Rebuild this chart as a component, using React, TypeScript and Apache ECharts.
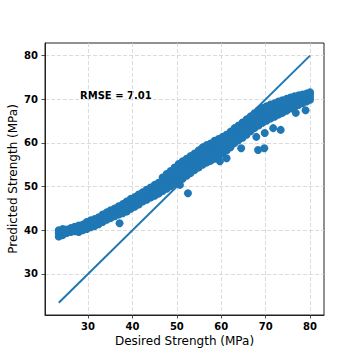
import React, { useEffect, useRef } from "react";
import * as echarts from "echarts";

// Desired strength (x) and predicted strength (y), column by column
const desired: number[] = [
  23.4, 23.4, 23.4,
  24.3, 24.3, 24.3,
  25.2, 25.2,
  26.1, 26.1,
  27.0, 27.0,
  27.9, 27.9, 27.9,
  28.8, 28.8,
  29.7, 29.7, 29.7,
  30.6, 30.6, 30.6,
  31.5, 31.5, 31.5,
  32.4, 32.4, 32.4,
  33.3, 33.3, 33.3,
  34.2, 34.2, 34.2,
  35.1, 35.1, 35.1,
  36.0, 36.0, 36.0,
  36.9, 36.9, 36.9,
  37.1,
  37.8, 37.8, 37.8,
  38.7, 38.7, 38.7,
  39.6, 39.6, 39.6,
  40.5, 40.5, 40.5,
  41.4, 41.4, 41.4,
  42.3, 42.3, 42.3,
  43.2, 43.2, 43.2,
  44.1, 44.1, 44.1,
  45.0, 45.0, 45.0,
  45.9, 45.9, 45.9,
  46.8, 46.8, 46.8, 46.8,
  47.7, 47.7, 47.7, 47.7,
  48.6, 48.6, 48.6, 48.6,
  49.5, 49.5, 49.5, 49.5,
  50.4, 50.4, 50.4, 50.4,
  50.7,
  51.3, 51.3, 51.3, 51.3,
  52.2, 52.2, 52.2, 52.2,
  52.5,
  53.1, 53.1, 53.1, 53.1,
  54.0, 54.0, 54.0, 54.0,
  54.9, 54.9, 54.9, 54.9,
  55.8, 55.8, 55.8, 55.8,
  56.7, 56.7, 56.7, 56.7,
  57.6, 57.6, 57.6, 57.6,
  58.5, 58.5, 58.5, 58.5,
  59.4, 59.4, 59.4, 59.4,
  59.7,
  60.3, 60.3, 60.3, 60.3,
  61.2, 61.2, 61.2, 61.2, 61.2,
  62.1, 62.1, 62.1, 62.1,
  63.0, 63.0, 63.0, 63.0,
  63.9, 63.9, 63.9, 63.9,
  64.5,
  64.8, 64.8, 64.8, 64.8,
  65.7, 65.7, 65.7, 65.7,
  66.6, 66.6, 66.6, 66.6,
  67.5, 67.5, 67.5, 67.5,
  67.9,
  68.3,
  68.4, 68.4, 68.4, 68.4,
  69.3, 69.3, 69.3, 69.3,
  69.7,
  69.8,
  70.2, 70.2, 70.2, 70.2,
  71.1, 71.1, 71.1, 71.1,
  71.7,
  72.0, 72.0, 72.0, 72.0,
  72.9, 72.9, 72.9, 72.9,
  73.4,
  73.8, 73.8, 73.8, 73.8,
  74.7, 74.7, 74.7, 74.7,
  75.6, 75.6, 75.6, 75.6,
  76.5, 76.5, 76.5, 76.5,
  76.8,
  77.4, 77.4, 77.4, 77.4,
  78.3, 78.3, 78.3, 78.3,
  79.0,
  79.2, 79.2, 79.2, 79.2,
  80.0, 80.0, 80.0, 80.0,
];

const predicted: number[] = [
  38.6, 39.4, 40.0,
  38.9, 39.6, 40.3,
  39.4, 40.2,
  39.6, 40.5,
  39.8, 40.8,
  39.6, 40.3, 41.1,
  40.0, 41.3,
  40.3, 41.2, 41.9,
  40.7, 41.6, 42.3,
  41.0, 41.9, 42.6,
  41.4, 42.3, 43.0,
  41.9, 42.8, 43.6,
  42.4, 43.3, 44.1,
  42.8, 43.8, 44.6,
  43.2, 44.2, 45.0,
  43.6, 44.6, 45.5,
  41.6,
  43.9, 45.0, 46.0,
  44.3, 45.4, 46.6,
  44.9, 46.0, 47.2,
  45.4, 46.5, 47.6,
  45.9, 47.0, 48.2,
  46.6, 47.6, 48.7,
  47.0, 48.1, 49.3,
  47.5, 48.6, 49.8,
  47.9, 49.1, 50.4,
  48.4, 49.6, 50.9,
  49.0, 50.2, 51.3, 52.1,
  49.5, 50.7, 51.9, 52.9,
  50.1, 51.2, 52.4, 53.6,
  50.7, 51.9, 53.1, 54.4,
  51.3, 52.5, 53.8, 55.2,
  50.4,
  51.8, 53.1, 54.4, 55.8,
  52.5, 53.8, 55.1, 56.4,
  48.5,
  53.1, 54.4, 55.7, 57.0,
  53.8, 55.0, 56.3, 57.6,
  54.4, 55.6, 56.9, 58.3,
  55.0, 56.3, 57.6, 59.0,
  55.5, 56.8, 58.1, 59.5,
  55.9, 57.2, 58.5, 59.9,
  56.4, 57.7, 59.0, 60.5,
  57.0, 58.2, 59.5, 60.9,
  55.8,
  57.6, 58.8, 60.0, 61.4,
  56.5, 58.3, 59.5, 60.7, 61.9,
  59.0, 60.2, 61.4, 62.6,
  60.0, 61.2, 62.3, 63.4,
  60.6, 61.8, 62.9, 64.0,
  58.8,
  61.2, 62.4, 63.6, 64.7,
  61.9, 63.1, 64.3, 65.4,
  62.7, 63.9, 65.1, 66.1,
  63.4, 64.6, 65.8, 66.8,
  61.4,
  58.4,
  64.0, 65.3, 66.5, 67.5,
  64.6, 65.8, 67.0, 68.0,
  58.8,
  62.3,
  65.1, 66.3, 67.4, 68.4,
  65.6, 66.8, 67.8, 68.8,
  63.4,
  66.0, 67.2, 68.2, 69.1,
  66.5, 67.6, 68.6, 69.5,
  63.0,
  66.9, 68.0, 69.0, 69.8,
  67.4, 68.4, 69.3, 70.1,
  67.9, 68.8, 69.7, 70.4,
  68.3, 69.2, 70.0, 70.7,
  66.9,
  68.7, 69.6, 70.3, 70.9,
  69.1, 69.9, 70.6, 71.1,
  67.5,
  69.5, 70.3, 70.9, 71.3,
  69.9, 70.6, 71.2, 71.6,
];

// Identity (perfect prediction) line end points
const identityX: number[] = [23.4, 80.0];

const xTicks: number[] = [30, 40, 50, 60, 70, 80];
const yTicks: number[] = [30, 40, 50, 60, 70, 80];

const rmseText = "RMSE = 7.01";
const xName = "Desired Strength (MPa)";
const yName = "Predicted Strength (MPa)";

const BLUE = "#1f77b4";
const FONT = "DejaVu Sans";

export default function App() {
  const ref = useRef<HTMLDivElement>(null);

  useEffect(() => {
    if (!ref.current) return;
    const chart = echarts.init(ref.current, undefined, { renderer: "svg" });

    const scatterData = desired.map((x, i) => [x, predicted[i]]);
    const lineData = identityX.map((v) => [v, v]);

    const splitLine = {
      show: true,
      lineStyle: { color: "#d3d3d3", type: [4, 2] as any, width: 0.8 },
    };

    chart.setOption({
      animation: false,
      backgroundColor: "#ffffff",
      grid: {
        left: 45,
        right: 36,
        top: 43,
        bottom: 45,
        outerBoundsMode: "none",
        containLabel: false,
        show: true,
        borderColor: "#222222",
        borderWidth: 1,
        backgroundColor: "transparent",
      },
      xAxis: {
        type: "value",
        min: 20.3,
        max: 83.15,
        name: xName,
        nameLocation: "middle",
        nameGap: 20,
        nameMoveOverlap: false,
        nameTextStyle: { fontFamily: FONT, fontSize: 12, color: "#000" },
        axisLine: { show: true, onZero: false, lineStyle: { color: "#222", width: 1 } },
        axisTick: {
          show: true,
          inside: false,
          length: 3.5,
          customValues: xTicks,
          lineStyle: { color: "#222", width: 0.8 },
        },
        axisLabel: {
          customValues: xTicks,
          margin: 6,
          fontFamily: FONT,
          fontSize: 10,
          fontWeight: "bold",
          color: "#000",
        },
        splitLine,
      },
      yAxis: {
        type: "value",
        min: 20.6,
        max: 82.9,
        name: yName,
        nameLocation: "middle",
        nameGap: 26,
        nameMoveOverlap: false,
        nameTextStyle: { fontFamily: FONT, fontSize: 12, color: "#000" },
        axisLine: { show: true, onZero: false, lineStyle: { color: "#222", width: 1 } },
        axisTick: {
          show: true,
          inside: false,
          length: 3.5,
          customValues: yTicks,
          lineStyle: { color: "#222", width: 0.8 },
        },
        axisLabel: {
          customValues: yTicks,
          margin: 7,
          fontFamily: FONT,
          fontSize: 10,
          fontWeight: "bold",
          color: "#000",
        },
        splitLine,
      },
      series: [
        {
          type: "line",
          data: lineData,
          showSymbol: false,
          symbol: "none",
          lineStyle: { color: BLUE, width: 2 },
          z: 2,
        },
        {
          type: "scatter",
          data: scatterData,
          symbol: "circle",
          symbolSize: 8,
          itemStyle: { color: BLUE, opacity: 1 },
          z: 3,
        },
      ],
      graphic: [
        {
          type: "text",
          left: 80,
          top: 90,
          style: {
            text: rmseText,
            fontFamily: FONT,
            fontSize: 10,
            fontWeight: "bold",
            fill: "#000",
          },
        },
      ],
    });

    return () => chart.dispose();
  }, []);

  return (
    <div
      ref={ref}
      style={{ position: "fixed", left: 0, top: 0, width: 360, height: 360 }}
    />
  );
}
